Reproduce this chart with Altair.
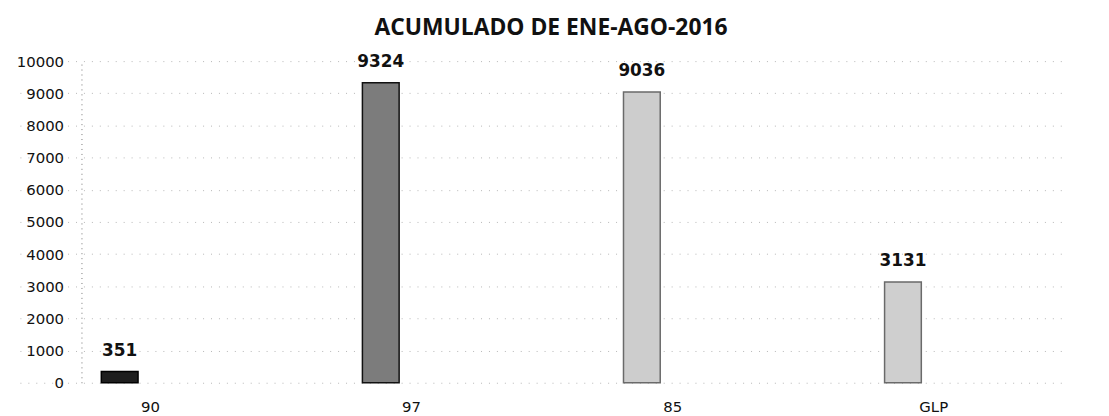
import altair as alt
import pandas as pd

categories = ["90", "97", "85", "GLP"]
values = [351, 9324, 9036, 3131]
fills = ["#1e1e1e", "#7c7c7c", "#cdcdcd", "#cfcfcf"]
strokes = ["#000000", "#111111", "#6a6a6a", "#6a6a6a"]

df = pd.DataFrame({"cat": categories, "val": values, "fill": fills, "stroke": strokes})

x = alt.X("cat:N", sort=categories, title=None,
          scale=alt.Scale(range=[-62, 990], paddingInner=0, paddingOuter=0),
          axis=alt.Axis(labelAngle=0, labelFont="DejaVu Sans", labelFontSize=15,
                        labelColor="#111", ticks=False, domain=False, grid=False,
                        labelPadding=17))
y = alt.Y("val:Q", title=None,
          scale=alt.Scale(domain=[0, 10000], nice=False),
          axis=alt.Axis(values=list(range(0, 10001, 1000)), format="d",
                        labelFont="DejaVu Sans",
                        labelFontSize=15, labelColor="#111", ticks=False,
                        labelPadding=18, domain=True, domainColor="#777",
                        domainDash=[1, 4], gridDash=[1, 7], gridColor="#999",
                        gridOpacity=0.7))

bars = alt.Chart(df).mark_bar(width=37, xOffset=-31, strokeWidth=1.5).encode(
    x=x, y=y,
    fill=alt.Fill("fill:N", scale=None),
    stroke=alt.Stroke("stroke:N", scale=None),
)

text = alt.Chart(df).mark_text(xOffset=-31, dy=-12, baseline="bottom",
                               font="DejaVu Sans", fontWeight="bold",
                               fontSize=17, color="#111").encode(
    x=x, y=y, text="val:Q"
)

chart = (bars + text).properties(
    width=1018, height=324,
    padding={"left": 74, "top": 52, "right": 9, "bottom": 32},
    autosize=alt.AutoSizeParams(type="none"),
    title=alt.TitleParams("ACUMULADO DE ENE-AGO-2016", font="Open Sans",
                          fontWeight="bold", fontSize=23, color="#111",
                          offset=13, anchor="middle", dx=-36),
).configure(background="white").configure_view(stroke=None)

chart.save("out.html", embed_options={"renderer": "svg", "actions": False})
